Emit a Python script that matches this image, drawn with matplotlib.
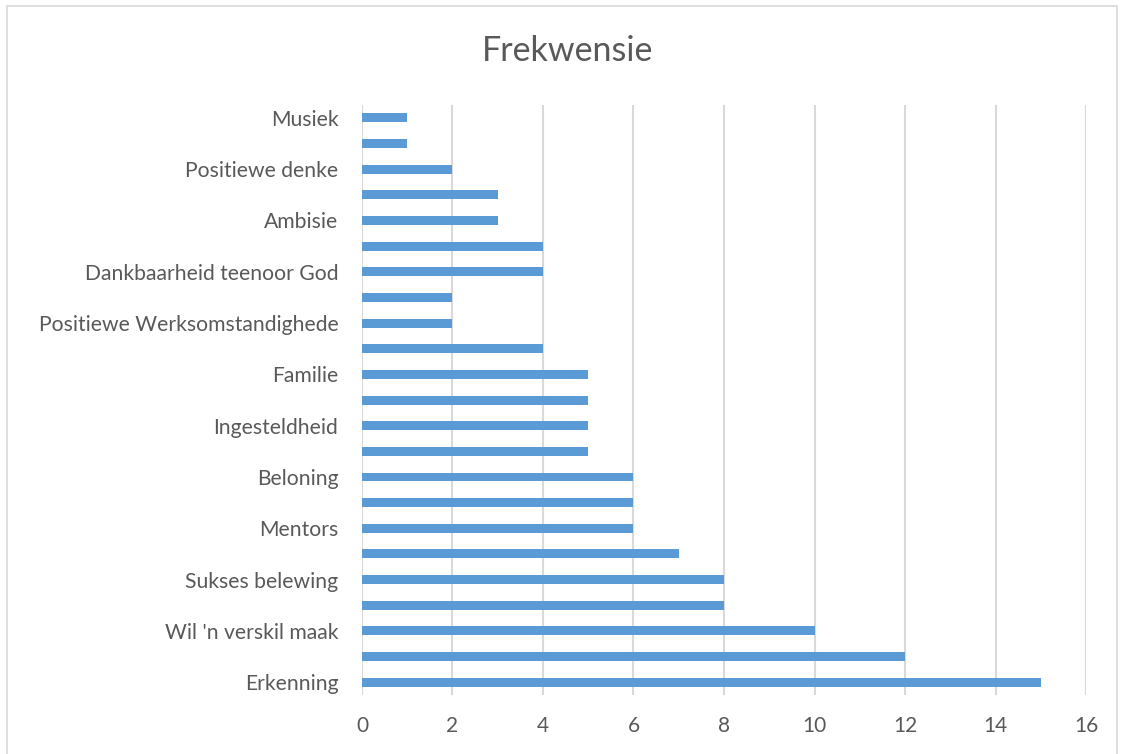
import matplotlib.pyplot as plt
from matplotlib.patches import Rectangle

# categories from bottom to top; Excel hides every other label
labels = ["Erkenning", "", "Wil 'n verskil maak", "", "Sukses belewing", "",
          "Mentors", "", "Beloning", "", "Ingesteldheid", "", "Familie", "",
          "Positiewe Werksomstandighede", "", "Dankbaarheid teenoor God", "",
          "Ambisie", "", "Positiewe denke", "", "Musiek"]
values = [15, 12, 10, 8, 8, 7, 6, 6, 6, 5, 5, 5, 5, 4, 2, 2, 4, 4, 3, 3, 2, 1, 1]
xticks = [0, 2, 4, 6, 8, 10, 12, 14, 16]

grey = '#595959'
plt.rcParams['font.family'] = ['Lato', 'DejaVu Sans']

fig = plt.figure(figsize=(11.21, 7.54), dpi=100)
ax = fig.add_axes([0.3229, 0.0782, 0.6459, 0.7825])

pos = list(range(len(values)))
ax.barh(pos, values, height=0.35, color='#5B9BD5', zorder=3)

ax.set_xlim(0, 16)
ax.set_ylim(-0.5, len(values) - 0.5)
ax.set_xticks(xticks)
ax.set_xticklabels([str(t) for t in xticks], fontsize=15, color=grey)
ax.set_yticks(pos)
ax.set_yticklabels(labels, fontsize=15.2, color=grey)
ax.tick_params(axis='x', length=0, pad=15)
ax.tick_params(axis='y', length=0, pad=17)
ax.grid(axis='x', color='#D9D9D9', linewidth=1.5, zorder=0)
for s in ax.spines.values():
    s.set_visible(False)

fig.text(0.506, 0.933, 'Frekwensie', ha='center', va='center', fontsize=24.5, color=grey)

# chart border
fig.patches.append(Rectangle((0.0062, -0.01), 0.9902, 1.002, transform=fig.transFigure,
                             fill=False, edgecolor='#D9D9D9', linewidth=1.2))

fig.savefig('out.png', dpi=100)
